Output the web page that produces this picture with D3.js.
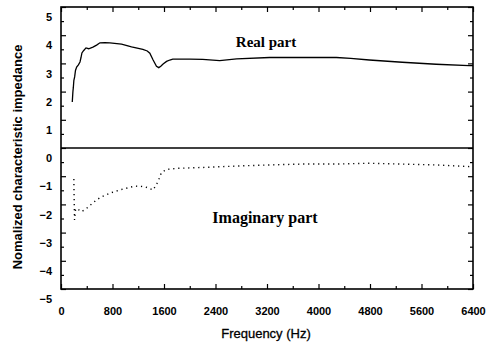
<!DOCTYPE html>
<html>
<head>
<meta charset="utf-8">
<script src="https://cdn.jsdelivr.net/npm/d3@7"></script>
<style>
  body { margin: 0; background: #fff; }
  svg { display: block; }
</style>
</head>
<body>
<svg width="496" height="344"></svg>
<script>
// tick values
var freqTicks = [0, 800, 1600, 2400, 3200, 4000, 4800, 5600, 6400]
var freqMinor = [400, 1200, 2000, 2800, 3600, 4400, 5200, 6000]
var impTicks = [-5, -4, -3, -2, -1, 0, 1, 2, 3, 4, 5]
var impMinor = [-4.5, -3.5, -2.5, -1.5, -0.5, 0.5, 1.5, 2.5, 3.5, 4.5]

// real part: [frequency Hz, normalized impedance]
var realPart = [
    [175, 1.63], [185, 2.0], [191, 2.13], [200, 2.4], [212, 2.52], [225, 2.75], [243, 2.87],
    [270, 2.95], [295, 3.05], [310, 3.2], [325, 3.37], [350, 3.45], [388, 3.55], [430, 3.52],
    [496, 3.58], [553, 3.65], [605, 3.73], [680, 3.74], [760, 3.73], [940, 3.68],
    [1096, 3.59], [1271, 3.5], [1340, 3.44], [1380, 3.36], [1431, 3.12], [1483, 2.9],
    [1519, 2.85], [1550, 2.9], [1586, 2.98], [1640, 3.07], [1690, 3.12], [1736, 3.15],
    [2000, 3.15], [2201, 3.14], [2465, 3.1], [2728, 3.16], [3240, 3.21], [3751, 3.21],
    [4278, 3.21], [4500, 3.18], [4790, 3.12], [5301, 3.04], [5828, 2.97], [6340, 2.92],
    [6400, 2.92]
]

// imaginary part: [frequency Hz, normalized impedance]
var imagPart = [
    [200, -1.1], [202, -1.5], [205, -1.9], [208, -2.3], [210, -2.55], [225, -2.2],
    [243, -2.14], [320, -2.26], [398, -2.14], [475, -1.99], [553, -1.84], [630, -1.73],
    [785, -1.58], [940, -1.47], [1147, -1.35], [1302, -1.37], [1431, -1.49], [1508, -1.19],
    [1560, -0.87], [1638, -0.76], [1818, -0.72], [2201, -0.69], [2728, -0.64], [3240, -0.6],
    [3751, -0.57], [4278, -0.57], [4790, -0.54], [5301, -0.57], [5828, -0.6], [6340, -0.66],
    [6400, -0.66]
]

var svg = d3.select("svg")
var plot = { left: 61, right: 473, top: 7, bottom: 289 }

var x = d3.scaleLinear().domain([0, 6400]).range([plot.left, plot.right])
var y = d3.scaleLinear().domain([-5, 5]).range([plot.bottom, plot.top])

function ticks_on(axis, g, size) {
    g.call(axis.tickSize(size))
    g.select(".domain").remove()
    g.selectAll("line").attr("stroke", "#000").attr("stroke-width", 1.2)
}

// major ticks, inward on all four sides
var gb = svg.append("g").attr("transform", "translate(0," + plot.bottom + ")")
ticks_on(d3.axisBottom(x).tickValues(freqTicks).tickFormat(d3.format("d")), gb, -5)
gb.selectAll("text")
    .attr("font-family", "Liberation Sans, Arial, sans-serif")
    .attr("font-size", 11)
    .attr("font-weight", "bold")
    .attr("fill", "#000")
    .attr("dy", "0.71em")
    .attr("y", 18)

var gt = svg.append("g").attr("transform", "translate(0," + plot.top + ")")
ticks_on(d3.axisTop(x).tickValues(freqTicks).tickFormat(""), gt, -5)

var gl = svg.append("g").attr("transform", "translate(" + plot.left + ",0)")
ticks_on(d3.axisLeft(y).tickValues(impTicks).tickFormat(d3.format("d")), gl, -5)
gl.selectAll("text")
    .attr("font-family", "Liberation Sans, Arial, sans-serif")
    .attr("font-size", 11)
    .attr("font-weight", "bold")
    .attr("fill", "#000")
    .attr("x", -9)
    .attr("dy", "1.25em")

var gr = svg.append("g").attr("transform", "translate(" + plot.right + ",0)")
ticks_on(d3.axisRight(y).tickValues(impTicks).tickFormat(""), gr, -5)

// minor ticks
var mb = svg.append("g").attr("transform", "translate(0," + plot.bottom + ")")
ticks_on(d3.axisBottom(x).tickValues(freqMinor).tickFormat(""), mb, -3)
var mt = svg.append("g").attr("transform", "translate(0," + plot.top + ")")
ticks_on(d3.axisTop(x).tickValues(freqMinor).tickFormat(""), mt, -3)
var ml = svg.append("g").attr("transform", "translate(" + plot.left + ",0)")
ticks_on(d3.axisLeft(y).tickValues(impMinor).tickFormat(""), ml, -3)
var mr = svg.append("g").attr("transform", "translate(" + plot.right + ",0)")
ticks_on(d3.axisRight(y).tickValues(impMinor).tickFormat(""), mr, -3)

// frame
svg.append("rect")
    .attr("x", plot.left)
    .attr("y", plot.top)
    .attr("width", plot.right - plot.left)
    .attr("height", plot.bottom - plot.top)
    .attr("fill", "none")
    .attr("stroke", "#000")
    .attr("stroke-width", 1.6)

// zero line
svg.append("line")
    .attr("x1", plot.left).attr("x2", plot.right)
    .attr("y1", y(0)).attr("y2", y(0))
    .attr("stroke", "#000")
    .attr("stroke-width", 1.6)

var line = d3.line()
    .x(function (d) { return x(d[0]); })
    .y(function (d) { return y(d[1]); })

svg.append("path")
    .datum(realPart)
    .attr("fill", "none")
    .attr("stroke", "#000")
    .attr("stroke-width", 1.3)
    .attr("d", line)

svg.append("path")
    .datum(imagPart)
    .attr("fill", "none")
    .attr("stroke", "#000")
    .attr("stroke-width", 1.4)
    .attr("stroke-dasharray", "1.2,3.8")
    .attr("d", line)

// curve labels
svg.append("text")
    .attr("x", 266).attr("y", 47)
    .attr("text-anchor", "middle")
    .attr("font-family", "Liberation Serif, Times New Roman, serif")
    .attr("font-size", 15)
    .attr("font-weight", "bold")
    .text("Real part")

svg.append("text")
    .attr("x", 265).attr("y", 223)
    .attr("text-anchor", "middle")
    .attr("font-family", "Liberation Serif, Times New Roman, serif")
    .attr("font-size", 16)
    .attr("font-weight", "bold")
    .text("Imaginary part")

// axis titles
svg.append("text")
    .attr("x", 266).attr("y", 338)
    .attr("text-anchor", "middle")
    .attr("font-family", "Liberation Sans, Arial, sans-serif")
    .attr("font-size", 13)
    .attr("stroke", "#000")
    .attr("stroke-width", 0.3)
    .text("Frequency (Hz)")

svg.append("text")
    .attr("transform", "translate(22,157) rotate(-90)")
    .attr("text-anchor", "middle")
    .attr("font-family", "Liberation Sans, Arial, sans-serif")
    .attr("font-size", 13)
    .attr("font-weight", "bold")
    .text("Nomalized characteristic impedance")
</script>
</body>
</html>
